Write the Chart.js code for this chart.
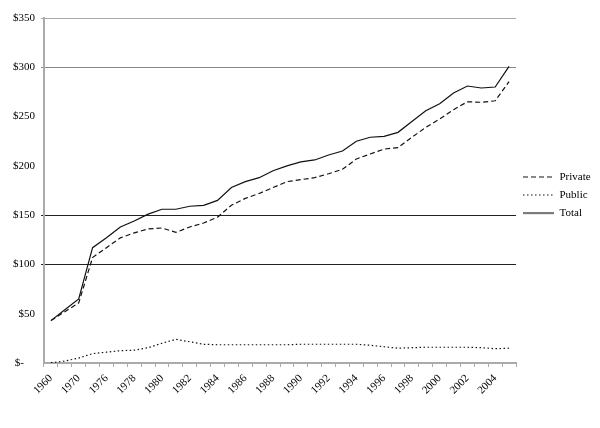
<!DOCTYPE html>
<html>
<head>
<meta charset="utf-8">
<script src="https://cdn.jsdelivr.net/npm/chart.js@4/dist/chart.umd.min.js"></script>
<style>
  html, body { margin: 0; padding: 0; background: #fff; }
  #wrap { width: 600px; height: 428px; }
</style>
</head>
<body>
<div id="wrap"><canvas id="spending"></canvas></div>
<script>
const years = ['1960', '1965', '1970', '1975', '1976', '1977', '1978', '1979', '1980', '1981',
  '1982', '1983', '1984', '1985', '1986', '1987', '1988', '1989', '1990', '1991',
  '1992', '1993', '1994', '1995', '1996', '1997', '1998', '1999', '2000', '2001',
  '2002', '2003', '2004', '2005'];

const privateVals = [43, 52, 61, 107, 117, 127, 132, 136, 137, 132.5,
  138, 142, 148, 160, 167, 172, 178, 184, 186, 188,
  192, 196.5, 207, 212, 217, 218.5, 229, 239, 247.5, 257,
  265, 264.5, 266, 285.5];

const publicVals = [0.3, 2, 5, 9.5, 11, 12.5, 13, 15.5, 20, 24,
  21.5, 19, 18.5, 18.5, 18.5, 18.5, 18.5, 18.5, 19, 19,
  19, 19, 19, 18, 16.5, 15, 15.5, 16, 16, 16,
  16, 15.5, 14.5, 15];

const totalVals = [43, 54, 65, 117, 127, 138, 144, 151, 156, 156,
  159, 160, 165, 178, 184, 188, 195, 200, 204, 206,
  211, 215, 225, 229, 230, 234, 245, 256, 263, 274,
  281, 279, 280, 301];

const yTicks = [0, 50, 100, 150, 200, 250, 300, 350];

const serif = 'Liberation Serif';
const ink = '#111';
const dashPrivate = [5, 3];
const dashPublic = [1.5, 2.5];

function gridColour(value) {
  if (value === 100 || value === 150) return '#222';
  if (value === 300) return '#888';
  if (value === 350) return '#aaa';
  return 'rgba(0,0,0,0)';
}

// small line sample used as the legend symbol, so the dash shows in the key
function legendSwatch(dash) {
  const c = document.createElement('canvas');
  c.width = 31;
  c.height = 3;
  const g = c.getContext('2d');
  g.strokeStyle = ink;
  g.lineWidth = 1.2;
  g.setLineDash(dash);
  g.beginPath();
  g.moveTo(0, 1.5);
  g.lineTo(31, 1.5);
  g.stroke();
  return c;
}

// keep the legend column at a fixed width so the plot ends where the original does
const legendWidth = {
  id: 'legendWidth',
  beforeInit(chart) {
    const legend = chart.legend;
    if (!legend) return;
    const fit = legend.fit;
    legend.fit = function() {
      fit.call(this);
      if (this.isHorizontal && !this.isHorizontal()) this.width = 84;
    };
  }
};

const ctx = document.getElementById('spending');
new Chart(ctx, {
  type: 'line',
  data: {
    labels: years,
    datasets: [
      {
        label: 'Private',
        data: privateVals,
        borderColor: ink,
        borderWidth: 1.2,
        borderDash: dashPrivate,
        pointRadius: 0,
        pointStyle: legendSwatch(dashPrivate),
        tension: 0
      },
      {
        label: 'Public',
        data: publicVals,
        borderColor: ink,
        borderWidth: 1.2,
        borderDash: dashPublic,
        pointRadius: 0,
        pointStyle: legendSwatch(dashPublic),
        tension: 0
      },
      {
        label: 'Total',
        data: totalVals,
        borderColor: ink,
        borderWidth: 1.2,
        pointRadius: 0,
        pointStyle: legendSwatch([]),
        tension: 0
      }
    ]
  },
  options: {
    responsive: true,
    maintainAspectRatio: false,
    animation: false,
    layout: {
      padding: { top: 18, bottom: 0, left: 0, right: 0 }
    },
    scales: {
      x: {
        offset: true,
        grid: {
          offset: true,
          drawOnChartArea: true,
          color: c => (c.index === years.length ? '#aaa' : 'rgba(0,0,0,0)'),
          tickColor: '#aaa',
          tickLength: 4
        },
        border: { color: '#aaa', width: 2 },
        ticks: {
          autoSkip: false,
          minRotation: 45,
          maxRotation: 45,
          padding: 5,
          color: '#000',
          font: { family: serif, size: 11 },
          callback: function(value, index) {
            return index % 2 === 0 ? years[index] : '';
          }
        },
        afterFit: scale => { scale.height = 65; }
      },
      y: {
        min: 0,
        max: 350,
        afterBuildTicks: scale => {
          scale.ticks = yTicks.map(v => ({ value: v }));
        },
        grid: {
          color: c => gridColour(c.tick && c.tick.value),
          tickColor: c => gridColour(c.tick && c.tick.value),
          tickLength: 3,
          lineWidth: 1
        },
        border: { color: '#aaa', width: 2 },
        ticks: {
          padding: 6,
          color: '#000',
          font: { family: serif, size: 11 },
          callback: value => (value === 0 ? '$-    ' : '$' + value)
        },
        afterFit: scale => { scale.width = 44; }
      }
    },
    plugins: {
      legend: {
        display: true,
        position: 'right',
        align: 'center',
        fullSize: false,
        onClick: null,
        title: {
          display: true,
          text: ' ',
          font: { size: 5, lineHeight: 1 },
          padding: { top: 2, bottom: 2 }
        },
        labels: {
          usePointStyle: true,
          pointStyleWidth: 31,
          padding: 7,
          color: '#000',
          font: { family: serif, size: 11 }
        }
      },
      tooltip: { enabled: false }
    }
  },
  plugins: [legendWidth]
});
</script>
</body>
</html>
